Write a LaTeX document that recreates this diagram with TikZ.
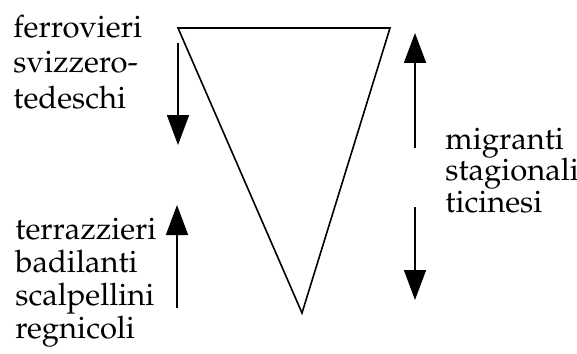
\documentclass[tikz,border=0pt]{standalone}
\usepackage[T1]{fontenc}
\usepackage{mathpazo}
\usepackage{tikz}
\usetikzlibrary{arrows.meta}

\begin{document}
\begin{tikzpicture}[x=0.5pt,y=-0.5pt,>={Triangle[length=15pt,width=11pt]},
    flow/.style={->,line width=0.8pt},
    group/.style={anchor=base west,align=left,inner sep=0pt}]
  \useasboundingbox (0,0) rectangle (577,353);
  % triangle
  \coordinate (TL) at (178,28);
  \coordinate (TR) at (390,28);
  \coordinate (B) at (302,313);
  \draw[line width=0.8pt,line join=miter] (TL)--(TR)--(B)--cycle;
  % arrows
  \coordinate (a1) at (178,43);  \coordinate (a2) at (178,145);
  \coordinate (b1) at (177,308); \coordinate (b2) at (177,205);
  \coordinate (c1) at (415,148); \coordinate (c2) at (415,33);
  \coordinate (d1) at (415,207); \coordinate (d2) at (415,300);
  \draw[flow] (a1)--(a2);
  \draw[flow] (b1)--(b2);
  \draw[flow] (c1)--(c2);
  \draw[flow] (d1)--(d2);
  % labels (anchored at the last line)
  \node[group,font=\fontsize{15.5}{17.75}\selectfont] (ferrovieri) at (13,108)
    {ferrovieri\\svizzero-\\tedeschi};
  \node[group,font=\fontsize{15.5}{16.5}\selectfont] (terrazzieri) at (15,338)
    {terrazzieri\\badilanti\\scalpellini\\regnicoli};
  \node[group,font=\fontsize{15.5}{15.75}\selectfont] (migranti) at (445,212)
    {migranti\\stagionali\\ticinesi};
\end{tikzpicture}
\end{document}
